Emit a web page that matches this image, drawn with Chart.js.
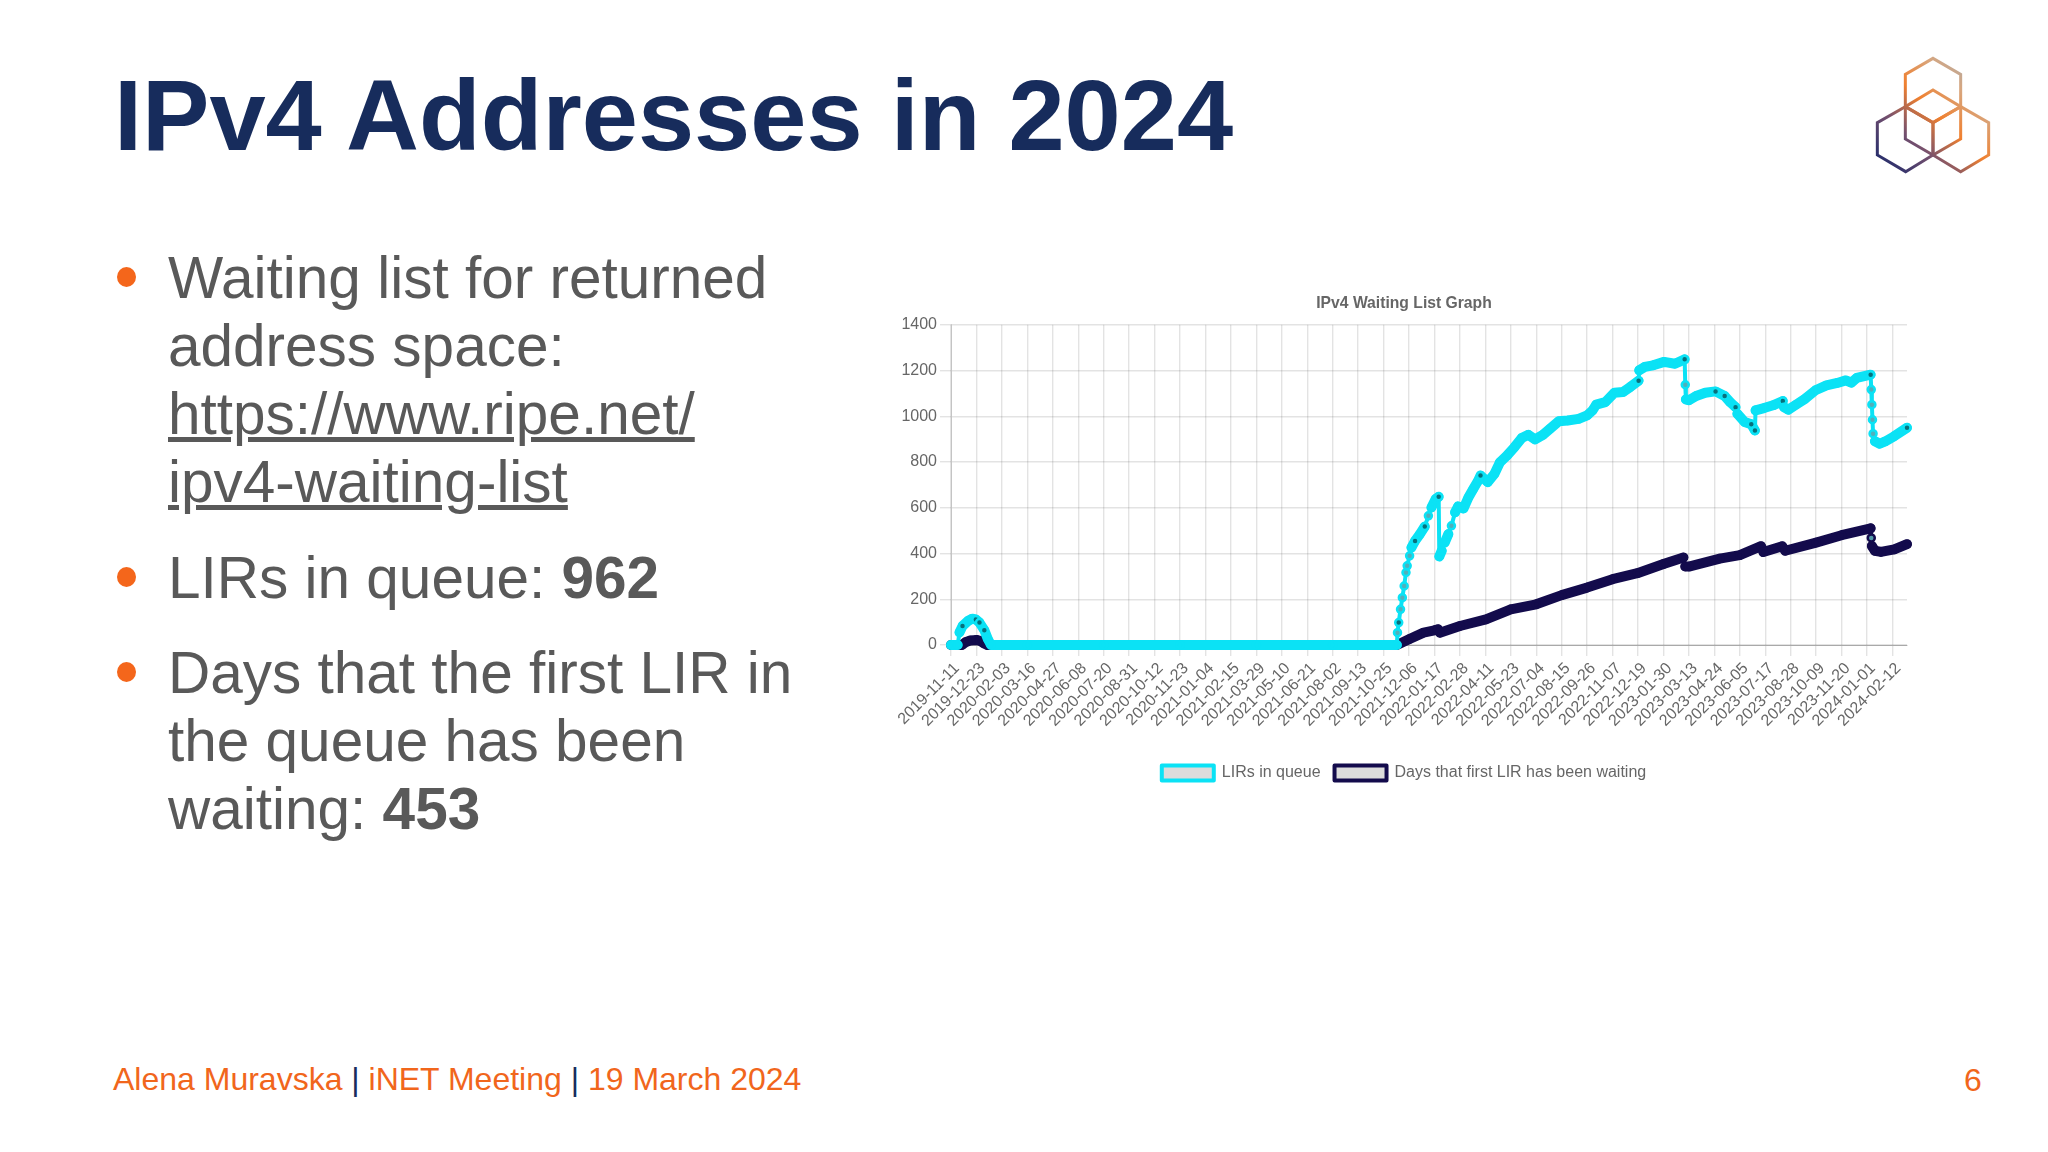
<!DOCTYPE html>
<html>
<head>
<meta charset="utf-8">
<title>IPv4 Addresses in 2024</title>
<script src="https://cdn.jsdelivr.net/npm/chart.js@4"></script>
<style>
    html, body { margin: 0; background: #fff; }
    #slide { position: relative; width: 2048px; height: 1152px; overflow: hidden; font-family: "Liberation Sans", Arial, sans-serif; }
    #slide div, #slide span.bullet { position: absolute; white-space: nowrap; line-height: 1; }
    .heading { left: 114px; top: 65px; font-size: 101px; font-weight: bold; color: #172c5c; }
    .line { left: 168px; font-size: 58.5px; color: #595959; }
    .bullet { left: 117px; width: 19px; height: 20px; border-radius: 50%; background: #f4661b; }
    .footer { left: 113px; top: 1063px; font-size: 32px; color: #f1661c; }
    .footer b { font-weight: normal; color: #172c5c; }
    .page { left: 1964px; top: 1064px; font-size: 32px; color: #f1661c; }
    #logo { position: absolute; left: 1840px; top: 40px; }
    #chart-box { position: absolute; left: 880px; top: 280px; }
</style>
</head>
<body>
<div id="slide">
    <div class="heading">IPv4 Addresses in 2024</div>

    <span class="bullet" style="top:267px"></span>
    <div class="line" style="top:249px">Waiting list for returned</div>
    <div class="line" style="top:317px">address space:</div>
    <div class="line" style="top:385px"><u>https://www.ripe.net/</u></div>
    <div class="line" style="top:453px"><u>ipv4-waiting-list</u></div>
    <span class="bullet" style="top:567px"></span>
    <div class="line" style="top:549px">LIRs in queue: <strong>962</strong></div>
    <span class="bullet" style="top:662px"></span>
    <div class="line" style="top:644px">Days that the first LIR in</div>
    <div class="line" style="top:712px">the queue has been</div>
    <div class="line" style="top:780px">waiting: <strong>453</strong></div>

    <div class="footer">Alena Muravska <b>|</b> iNET Meeting <b>|</b> 19 March 2024</div>
    <div class="page">6</div>

    <svg id="logo" width="190" height="150" viewBox="0 0 570 450" fill="none" stroke="url(#logoFade)" stroke-width="9" stroke-linejoin="miter">
        <defs>
            <linearGradient id="logoFade" gradientUnits="userSpaceOnUse" x1="110" y1="370" x2="400" y2="70">
                <stop offset="0" stop-color="#1f2a6b"/>
                <stop offset="0.3" stop-color="#75506e"/>
                <stop offset="0.55" stop-color="#f0802f"/>
                <stop offset="0.8" stop-color="#d8a67e"/>
                <stop offset="1" stop-color="#aaaaaa"/>
            </linearGradient>
        </defs>
        <polygon points="279,55 362,103 362,200 279,248 196,200 196,103"/>
        <polygon points="279,150 362,200 362,297 279,345 196,297 196,200"/>
        <polygon points="196,200 279,248 279,345 197,395 112,345 112,248"/>
        <polygon points="362,200 446,248 446,345 362,395 279,345 279,248"/>
    </svg>

    <div id="chart-box"><canvas id="waiting-chart" width="1040" height="527"></canvas></div>
</div>

<script>
const tickDates = [
    '2019-11-11', '2019-12-23', '2020-02-03', '2020-03-16', '2020-04-27', '2020-06-08', '2020-07-20', '2020-08-31',
    '2020-10-12', '2020-11-23', '2021-01-04', '2021-02-15', '2021-03-29', '2021-05-10', '2021-06-21', '2021-08-02',
    '2021-09-13', '2021-10-25', '2021-12-06', '2022-01-17', '2022-02-28', '2022-04-11', '2022-05-23', '2022-07-04',
    '2022-08-15', '2022-09-26', '2022-11-07', '2022-12-19', '2023-01-30', '2023-03-13', '2023-04-24', '2023-06-05',
    '2023-07-17', '2023-08-28', '2023-10-09', '2023-11-20', '2024-01-01', '2024-02-12'
];

// x values are days since 2019-11-11
const queueDays = [
    0, 11, 14, 19, 28, 35, 41, 47, 55, 61, 66, 126, 252, 378, 504, 630, 736,
    737, 739, 742, 745, 748, 751, 753, 757, 760, 766, 774, 782, 788, 793, 800, 805,
    806, 810, 815, 821, 826, 832, 837, 846, 854, 862, 870, 874, 886, 897, 906, 918, 930, 942, 953,
    964, 977, 989, 1003, 1018, 1036, 1050, 1059, 1065, 1080, 1095, 1109, 1121, 1135,
    1136, 1145, 1159, 1177, 1195, 1211,
    1212, 1213, 1218, 1230, 1245, 1262, 1277, 1286, 1295, 1298, 1310, 1321, 1327,
    1328, 1342, 1357, 1373, 1375, 1382, 1395, 1410, 1427, 1445, 1463, 1477, 1486, 1495, 1518,
    1519, 1520, 1521, 1522, 1525, 1533, 1542, 1557, 1578
];
const queueValues = [
    0, 0, 55, 83, 105, 115, 112, 98, 65, 25, 0, 0, 0, 0, 0, 0, 0,
    54, 98, 156, 207, 258, 317, 346, 390, 426, 455, 485, 518, 565, 601, 638, 648,
    387, 412, 448, 485, 521, 580, 606, 597, 645, 682, 718, 741, 712, 748, 799, 829, 865, 905, 919,
    899, 919, 946, 978, 982, 989, 1004, 1026, 1051, 1062, 1103, 1106, 1128, 1156,
    1201, 1216, 1223, 1238, 1230, 1249,
    1138, 1074, 1070, 1089, 1103, 1109, 1089, 1062, 1040, 1011, 975, 965, 938,
    1026, 1036, 1048, 1067, 1040, 1029, 1051, 1077, 1114, 1135, 1146, 1157, 1147, 1168, 1182,
    1117, 1051, 985, 924, 891, 880, 890, 913, 950
];
const waitDays = [
    0, 18, 24, 32, 42, 48, 54, 60, 736, 756, 780, 798, 804, 807, 840, 883, 924, 966, 1008, 1050, 1092, 1133, 1176,
    1209, 1212, 1218, 1269, 1302, 1337, 1341, 1372, 1377, 1428, 1470, 1518, 1519, 1520, 1525, 1535, 1557, 1578
];
const waitValues = [
    0, 0, 12, 20, 22, 18, 8, 0, 0, 25, 54, 64, 69, 54, 83, 112, 156, 178, 218, 251, 288, 314, 354,
    383, 343, 343, 378, 393, 432, 407, 432, 412, 448, 480, 510, 468, 433, 412, 407, 418, 441
];
const darkQueueDays = [19, 41, 47, 55, 739, 766, 782, 805, 874, 1135, 1211, 1262, 1277, 1295, 1321, 1327, 1373, 1518, 1578];

const queueColor = '#0be2f5';
const waitColor = '#130b4c';
const beadFill = 'rgba(90, 170, 180, 0.9)';
const darkFill = '#07707c';

const toDay = date => (Date.parse(date) - Date.parse(tickDates[0])) / 86400000;
const toPoints = (days, values) => days.map((day, i) => ({ x: day, y: values[i] }));

// steep stretches show the thin line with separate markers, flat ones merge into a band
const isSteep = (a, b) => Math.abs(b.y - a.y) / Math.max(b.x - a.x, 1) > 7;

const pointFill = (lineColor, darkDays) => ctx => {
    const data = ctx.dataset.data;
    const i = ctx.dataIndex;
    if (!data[i]) return lineColor;
    if (darkDays.includes(data[i].x)) return darkFill;
    const steepBefore = i > 0 && isSteep(data[i - 1], data[i]);
    const steepAfter = i < data.length - 1 && isSteep(data[i], data[i + 1]);
    return steepBefore && steepAfter ? beadFill : lineColor;
};

const makeDataset = (label, days, values, color, darkDays) => ({
    label: label,
    data: toPoints(days, values),
    borderColor: color,
    backgroundColor: '#dcdcdc',
    borderWidth: 10,
    borderCapStyle: 'round',
    borderJoinStyle: 'round',
    pointRadius: 3.5,
    pointBorderWidth: 2.5,
    pointBorderColor: color,
    pointBackgroundColor: pointFill(color, darkDays),
    segment: { borderWidth: ctx => isSteep(ctx.p0.parsed, ctx.p1.parsed) ? 4 : undefined },
    clip: false
});

const axisFont = { family: '"Liberation Sans", Arial, sans-serif', size: 16 };
const gridColor = 'rgba(0, 0, 0, 0.11)';

new Chart(document.getElementById('waiting-chart'), {
    type: 'line',
    data: {
        datasets: [
            makeDataset('LIRs in queue', queueDays, queueValues, queueColor, darkQueueDays),
            makeDataset('Days that first LIR has been waiting', waitDays, waitValues, waitColor, [])
        ]
    },
    options: {
        responsive: false,
        animation: false,
        layout: { padding: { left: 21, right: 13, top: 0, bottom: 16 } },
        scales: {
            x: {
                type: 'linear',
                min: 0,
                max: 1578,
                afterBuildTicks: axis => { axis.ticks = tickDates.map(date => ({ value: toDay(date) })); },
                afterFit: axis => { axis.height = 106; },
                grid: { color: gridColor, lineWidth: 1.4, tickLength: 11 },
                border: { color: 'rgba(0, 0, 0, 0.3)' },
                ticks: {
                    autoSkip: false,
                    minRotation: 45,
                    maxRotation: 45,
                    labelOffset: 6,
                    color: '#666',
                    font: axisFont,
                    callback: (value, index) => tickDates[index]
                }
            },
            y: {
                min: 0,
                max: 1400,
                afterFit: axis => { axis.width = 50; },
                grid: { color: gridColor, lineWidth: 1.4, tickLength: 11 },
                border: { color: 'rgba(0, 0, 0, 0.2)' },
                ticks: { stepSize: 200, color: '#666', font: axisFont, callback: value => String(value) }
            }
        },
        plugins: {
            title: {
                display: true,
                text: 'IPv4 Waiting List Graph',
                color: '#666',
                font: { family: axisFont.family, size: 15.7, weight: 'bold' },
                padding: { top: 14, bottom: 12 }
            },
            legend: {
                position: 'bottom',
                labels: {
                    boxWidth: 52,
                    boxHeight: 15,
                    color: '#666',
                    padding: 14,
                    font: { family: axisFont.family, size: 16 },
                    generateLabels: chart => Chart.defaults.plugins.legend.labels.generateLabels(chart)
                        .map(item => ({ ...item, lineWidth: 4 }))
                }
            },
            tooltip: { enabled: false }
        }
    }
});
</script>
</body>
</html>
